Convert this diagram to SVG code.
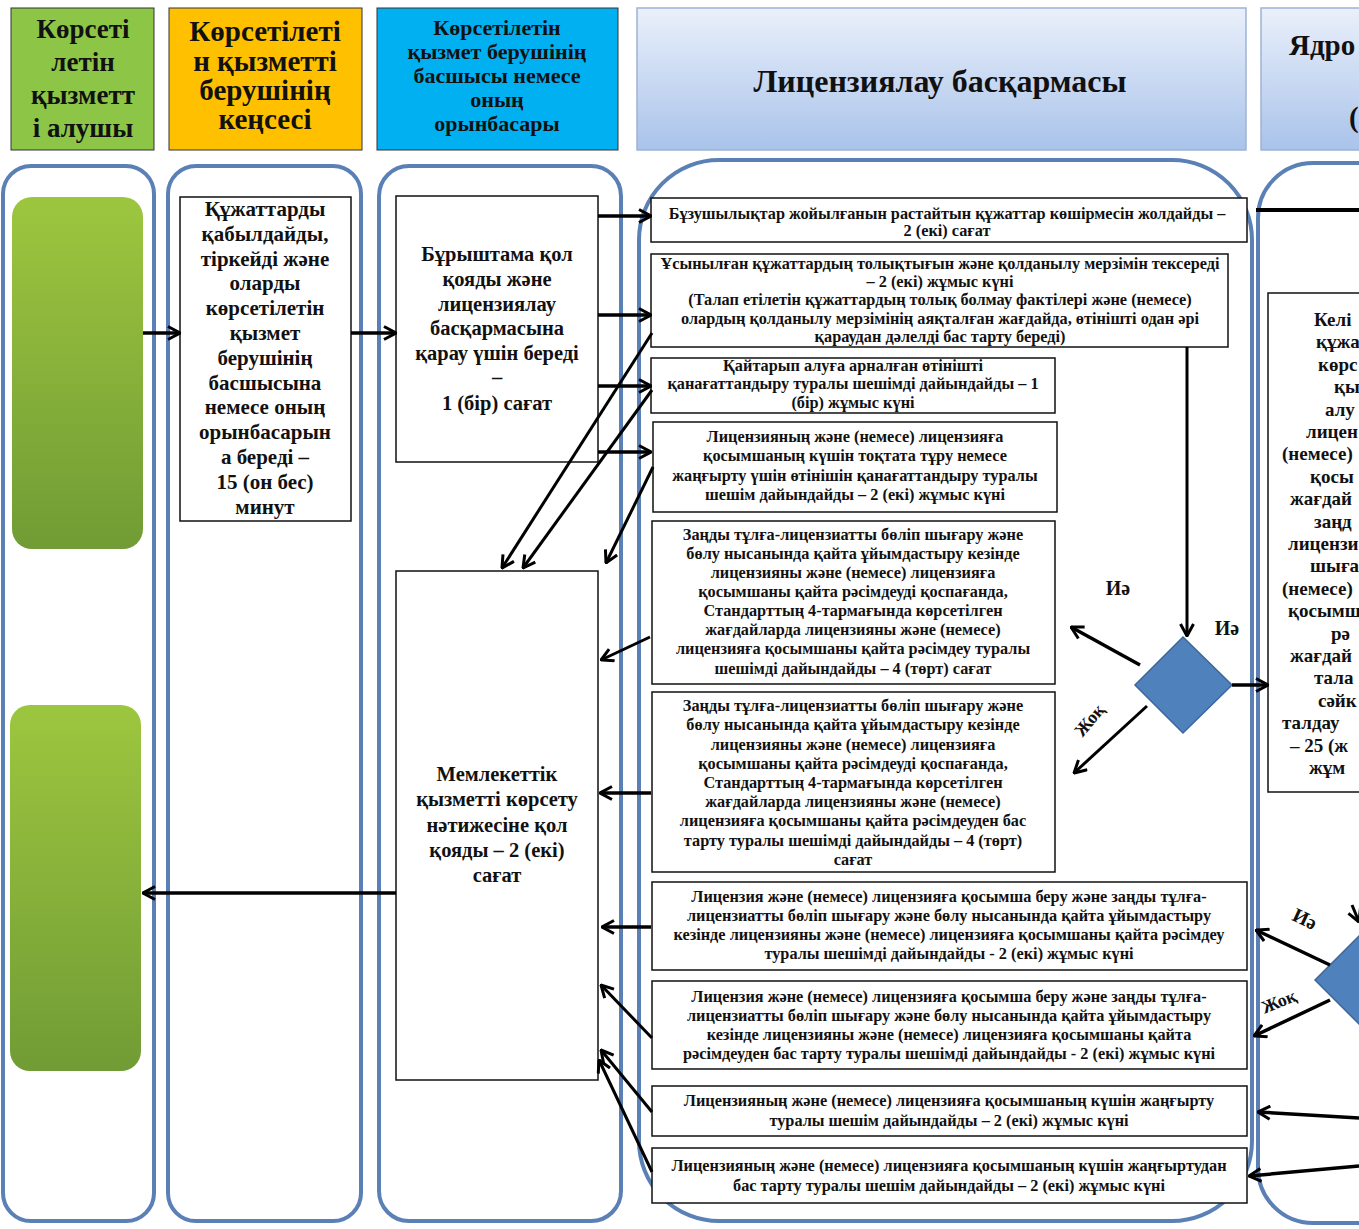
<svg xmlns="http://www.w3.org/2000/svg" width="1359" height="1229" viewBox="0 0 1359 1229">
<defs>
<linearGradient id="gHead" x1="0" y1="0" x2="0" y2="1"><stop offset="0" stop-color="#eaf0fb"/><stop offset="1" stop-color="#a9c3ea"/></linearGradient>
<linearGradient id="gGreen" x1="0" y1="0" x2="0" y2="1"><stop offset="0" stop-color="#9dc63f"/><stop offset="1" stop-color="#719c35"/></linearGradient>
<marker id="ah" viewBox="0 0 14 16" refX="13" refY="8" markerWidth="14" markerHeight="16" markerUnits="userSpaceOnUse" orient="auto"><path d="M1,1.5 L13,8 L1,14.5" fill="none" stroke="#000" stroke-width="3"/></marker>
<style>
.lane{fill:#fff;stroke:#5a80b6;stroke-width:4}
.box{fill:#fff;stroke:#111;stroke-width:1.5}
.hdr{stroke:#333;stroke-width:1}
.hdr2{fill:url(#gHead);stroke:#9fb3d3;stroke-width:1.5}
.green{fill:url(#gGreen)}
.dia{fill:#4f81bd;stroke:#3d679b;stroke-width:1.5}
.t{font-family:"Liberation Serif","Times New Roman",serif;font-weight:bold;fill:#111;text-anchor:middle}
.ts{font-family:"Liberation Serif","Times New Roman",serif;font-weight:bold;fill:#111;text-anchor:start}
.h27{font-size:27px}
.h29{font-size:29px}
.h23{font-size:22px}
.h32{font-size:32px}
.l21{font-size:21px}
.l20{font-size:20.5px}
.b{font-size:16.3px}
.r{font-size:19px}
.lab{font-size:20px}
.c{fill:none;stroke:#000;stroke-width:3.5;marker-end:url(#ah)}
.cd{fill:none;stroke:#000;stroke-width:3;marker-end:url(#ah)}
.cl{fill:none;stroke:#000;stroke-width:4}
</style>
</defs>
<rect width="1359" height="1229" fill="#fff"/>

<g id="lanes">
<rect class="lane" x="3" y="166" width="151" height="1055" rx="28"/>
<rect class="lane" x="168" y="166" width="193" height="1055" rx="28"/>
<rect class="lane" x="379" y="166" width="242" height="1055" rx="30"/>
<rect class="lane" x="639" y="160" width="613" height="1061" rx="80"/>
<rect class="lane" x="1258" y="163" width="200" height="1060" rx="55"/>
</g>

<g id="headers">
<g id="h1"><rect class="hdr" x="11" y="8" width="143" height="142" fill="#8dc647"/>
<text class="t h27"><tspan x="83" y="38">Көрсеті</tspan><tspan x="83" y="71">летін</tspan><tspan x="83" y="104">қызметт</tspan><tspan x="83" y="137">і алушы</tspan></text></g>
<g id="h2"><rect class="hdr" x="169" y="8" width="193" height="142" fill="#ffc000"/>
<text class="t h29"><tspan x="265" y="41">Көрсетілеті</tspan><tspan x="265" y="71">н қызметті</tspan><tspan x="265" y="100">берушінің</tspan><tspan x="265" y="129">кеңсесі</tspan></text></g>
<g id="h3"><rect class="hdr" x="377" y="8" width="241" height="142" fill="#00b0f0"/>
<text class="t h23"><tspan x="497" y="35">Көрсетілетін</tspan><tspan x="497" y="59">қызмет берушінің</tspan><tspan x="497" y="83">басшысы немесе</tspan><tspan x="497" y="107">оның</tspan><tspan x="497" y="131">орынбасары</tspan></text></g>
<g id="h4"><rect class="hdr2" x="637" y="8" width="609" height="142"/>
<text class="t h32" x="940" y="92">Лицензиялау  басқармасы</text></g>
<g id="h5"><rect class="hdr2" x="1261" y="8" width="120" height="142"/>
<text class="ts h29" x="1289" y="55">Ядро</text><text class="ts h29" x="1349" y="127">(</text></g>
</g>

<g id="n_g1"><rect class="green" x="12" y="197" width="131" height="352" rx="20"/></g>
<g id="n_g2"><rect class="green" x="10" y="705" width="131" height="366" rx="20"/></g>

<g id="n_kab"><rect class="box" x="180" y="197" width="171" height="324" stroke-width="1"/>
<text class="t l21"><tspan x="265" y="216">Құжаттарды</tspan><tspan x="265" y="241">қабылдайды,</tspan><tspan x="265" y="266">тіркейді және</tspan><tspan x="265" y="290">оларды</tspan><tspan x="265" y="315">көрсетілетін</tspan><tspan x="265" y="340">қызмет</tspan><tspan x="265" y="365">берушінің</tspan><tspan x="265" y="390">басшысына</tspan><tspan x="265" y="414">немесе оның</tspan><tspan x="265" y="439">орынбасарын</tspan><tspan x="265" y="464">а береді –</tspan><tspan x="265" y="489">15 (он бес)</tspan><tspan x="265" y="514">минут</tspan></text></g>

<g id="n_bur"><rect class="box" x="396" y="196" width="202" height="266" stroke-width="1"/>
<text class="t l20"><tspan x="497" y="261">Бұрыштама  қол</tspan><tspan x="497" y="286">қояды және</tspan><tspan x="497" y="311">лицензиялау</tspan><tspan x="497" y="335">басқармасына</tspan><tspan x="497" y="360">қарау үшін береді</tspan><tspan x="497" y="384">–</tspan><tspan x="497" y="410">1 (бір) сағат</tspan></text></g>

<g id="n_mem"><rect class="box" x="396" y="571" width="202" height="509" stroke-width="1"/>
<text class="t l20"><tspan x="497" y="781">Мемлекеттік</tspan><tspan x="497" y="806">қызметті көрсету</tspan><tspan x="497" y="832">нәтижесіне қол</tspan><tspan x="497" y="857">қояды – 2 (екі)</tspan><tspan x="497" y="882">сағат</tspan></text></g>

<g id="n_b1"><rect class="box" x="651" y="198" width="596" height="44"/>
<text class="t b"><tspan x="947" y="219">Бұзушылықтар жойылғанын растайтын құжаттар көшірмесін жолдайды –</tspan><tspan x="947" y="236">2 (екі) сағат</tspan></text></g>

<g id="n_b2"><rect class="box" x="651" y="254" width="577" height="93"/>
<text class="t b"><tspan x="940" y="269">Ұсынылған құжаттардың толықтығын және қолданылу мерзімін тексереді</tspan><tspan x="940" y="287">– 2 (екі) жұмыс күні</tspan><tspan x="940" y="305">(Талап етілетін құжаттардың толық болмау фактілері және (немесе)</tspan><tspan x="940" y="324">олардың қолданылу мерзімінің аяқталған жағдайда, өтінішті одан әрі</tspan><tspan x="940" y="342">қараудан дәлелді бас тарту береді)</tspan></text></g>

<g id="n_b3"><rect class="box" x="651" y="358" width="404" height="55"/>
<text class="t b"><tspan x="853" y="371">Қайтарып алуға арналған өтінішті</tspan><tspan x="853" y="389">қанағаттандыру туралы шешімді дайындайды – 1</tspan><tspan x="853" y="408">(бір) жұмыс күні</tspan></text></g>

<g id="n_b4"><rect class="box" x="653" y="422" width="404" height="90"/>
<text class="t b"><tspan x="855" y="442">Лицензияның  және (немесе) лицензияға</tspan><tspan x="855" y="461">қосымшаның күшін тоқтата тұру немесе</tspan><tspan x="855" y="481">жаңғырту үшін өтінішін қанағаттандыру туралы</tspan><tspan x="855" y="500">шешім дайындайды – 2 (екі) жұмыс күні</tspan></text></g>

<g id="n_b5"><rect class="box" x="652" y="521" width="403" height="163"/>
<text class="t b"><tspan x="853" y="540">Заңды тұлға-лицензиатты бөліп шығару және</tspan><tspan x="853" y="559">бөлу нысанында қайта ұйымдастыру кезінде</tspan><tspan x="853" y="578">лицензияны және (немесе) лицензияға</tspan><tspan x="853" y="597">қосымшаны қайта рәсімдеуді қоспағанда,</tspan><tspan x="853" y="616">Стандарттың 4-тармағында көрсетілген</tspan><tspan x="853" y="635">жағдайларда лицензияны және (немесе)</tspan><tspan x="853" y="654">лицензияға қосымшаны қайта рәсімдеу туралы</tspan><tspan x="853" y="674">шешімді дайындайды – 4 (төрт) сағат</tspan></text></g>

<g id="n_b6"><rect class="box" x="652" y="692" width="403" height="180"/>
<text class="t b"><tspan x="853" y="711">Заңды тұлға-лицензиатты бөліп шығару және</tspan><tspan x="853" y="730">бөлу нысанында қайта ұйымдастыру кезінде</tspan><tspan x="853" y="750">лицензияны және (немесе) лицензияға</tspan><tspan x="853" y="769">қосымшаны қайта рәсімдеуді қоспағанда,</tspan><tspan x="853" y="788">Стандарттың 4-тармағында көрсетілген</tspan><tspan x="853" y="807">жағдайларда лицензияны және (немесе)</tspan><tspan x="853" y="826">лицензияға қосымшаны қайта рәсімдеуден бас</tspan><tspan x="853" y="846">тарту туралы шешімді дайындайды – 4 (төрт)</tspan><tspan x="853" y="865">сағат</tspan></text></g>

<g id="n_b7"><rect class="box" x="652" y="882" width="595" height="88"/>
<text class="t b"><tspan x="949" y="902">Лицензия және (немесе) лицензияға  қосымша беру және заңды тұлға-</tspan><tspan x="949" y="921">лицензиатты бөліп шығару және бөлу нысанында қайта ұйымдастыру</tspan><tspan x="949" y="940">кезінде лицензияны және (немесе) лицензияға қосымшаны қайта рәсімдеу</tspan><tspan x="949" y="959">туралы шешімді дайындайды  - 2 (екі) жұмыс күні</tspan></text></g>

<g id="n_b8"><rect class="box" x="652" y="981" width="595" height="88"/>
<text class="t b"><tspan x="949" y="1002">Лицензия және (немесе) лицензияға  қосымша беру және заңды тұлға-</tspan><tspan x="949" y="1021">лицензиатты бөліп шығару және бөлу нысанында қайта ұйымдастыру</tspan><tspan x="949" y="1040">кезінде лицензияны және (немесе) лицензияға қосымшаны қайта</tspan><tspan x="949" y="1059">рәсімдеуден бас тарту туралы шешімді дайындайды  - 2 (екі) жұмыс күні</tspan></text></g>

<g id="n_b9"><rect class="box" x="652" y="1086" width="595" height="50"/>
<text class="t b"><tspan x="949" y="1106">Лицензияның  және (немесе) лицензияға қосымшаның күшін жаңғырту</tspan><tspan x="949" y="1126">туралы шешім дайындайды – 2 (екі) жұмыс күні</tspan></text></g>

<g id="n_b10"><rect class="box" x="652" y="1148" width="595" height="55"/>
<text class="t b"><tspan x="949" y="1171">Лицензияның  және (немесе) лицензияға қосымшаның күшін жаңғыртудан</tspan><tspan x="949" y="1191">бас тарту туралы шешім дайындайды – 2 (екі) жұмыс күні</tspan></text></g>

<g id="n_d1"><polygon class="dia" points="1183,637 1232,685 1183,733 1135,685"/></g>
<g id="n_d2"><polygon class="dia" points="1315,980 1363,932 1411,980 1363,1028"/></g>

<g id="n_right"><rect class="box" x="1268" y="293" width="130" height="499"/>
<text class="ts r"><tspan x="1314" y="326">Келі</tspan><tspan x="1316" y="348">құжа</tspan><tspan x="1318" y="371">көрс</tspan><tspan x="1334" y="393">қы</tspan><tspan x="1325" y="416">алу</tspan><tspan x="1306" y="438">лицен</tspan><tspan x="1282" y="460">(немесе)</tspan><tspan x="1310" y="483">қосы</tspan><tspan x="1290" y="505">жағдай</tspan><tspan x="1314" y="528">заңд</tspan><tspan x="1288" y="550">лицензи</tspan><tspan x="1310" y="572">шыға</tspan><tspan x="1282" y="595">(немесе)</tspan><tspan x="1288" y="617">қосымш</tspan><tspan x="1331" y="640">рә</tspan><tspan x="1290" y="662">жағдай</tspan><tspan x="1314" y="684">тала</tspan><tspan x="1318" y="707">сәйк</tspan><tspan x="1282" y="729">талдау</tspan><tspan x="1290" y="752">– 25 (ж</tspan><tspan x="1309" y="774">жұм</tspan></text></g>

<g id="labels">
<text class="t lab" x="1118" y="595">Иә</text>
<text class="t lab" x="1227" y="635">Иә</text>
<text class="t" font-size="18" transform="translate(1094,724) rotate(-50)">Жоқ</text>
<text class="t" font-size="20" transform="translate(1302,925) rotate(25)">Иә</text>
<text class="t" font-size="18" transform="translate(1281,1007) rotate(-22)">Жоқ</text>
</g>

<g id="connectors">
<line class="c" x1="143" y1="333" x2="180" y2="333"/>
<line class="c" x1="351" y1="333" x2="396" y2="333"/>
<line class="c" x1="598" y1="216" x2="651" y2="216"/>
<line class="c" x1="598" y1="315" x2="651" y2="315"/>
<line class="c" x1="598" y1="386" x2="651" y2="386"/>
<line class="c" x1="598" y1="452" x2="651" y2="452"/>
<line class="cd" x1="652" y1="333" x2="502" y2="568"/>
<line class="cd" x1="652" y1="390" x2="523" y2="568"/>
<line class="cd" x1="653" y1="467" x2="606" y2="563"/>
<line class="cd" x1="650" y1="637" x2="601" y2="660"/>
<line class="c" x1="651" y1="793" x2="600" y2="793"/>
<line class="c" x1="651" y1="927" x2="602" y2="927"/>
<line class="cd" x1="652" y1="1038" x2="601" y2="985"/>
<line class="cd" x1="652" y1="1112" x2="601" y2="1050"/>
<line class="cd" x1="652" y1="1172" x2="599" y2="1060"/>
<line class="c" x1="396" y1="893" x2="143" y2="893"/>
<line class="cd" x1="1187" y1="347" x2="1187" y2="636"/>
<line class="c" x1="1140" y1="665" x2="1071" y2="627"/>
<line class="cd" x1="1147" y1="706" x2="1074" y2="773"/>
<line class="c" x1="1232" y1="685" x2="1268" y2="685"/>
<line class="cl" x1="1256" y1="210" x2="1359" y2="210"/>
<line class="c" x1="1330" y1="965" x2="1256" y2="930"/>
<line class="c" x1="1330" y1="1000" x2="1254" y2="1036"/>
<line class="c" x1="1359" y1="1118" x2="1258" y2="1112"/>
<line class="c" x1="1359" y1="1166" x2="1249" y2="1176"/>
<line class="cd" x1="1352" y1="905" x2="1359" y2="922" marker-end="none"/>
</g>
</svg>
